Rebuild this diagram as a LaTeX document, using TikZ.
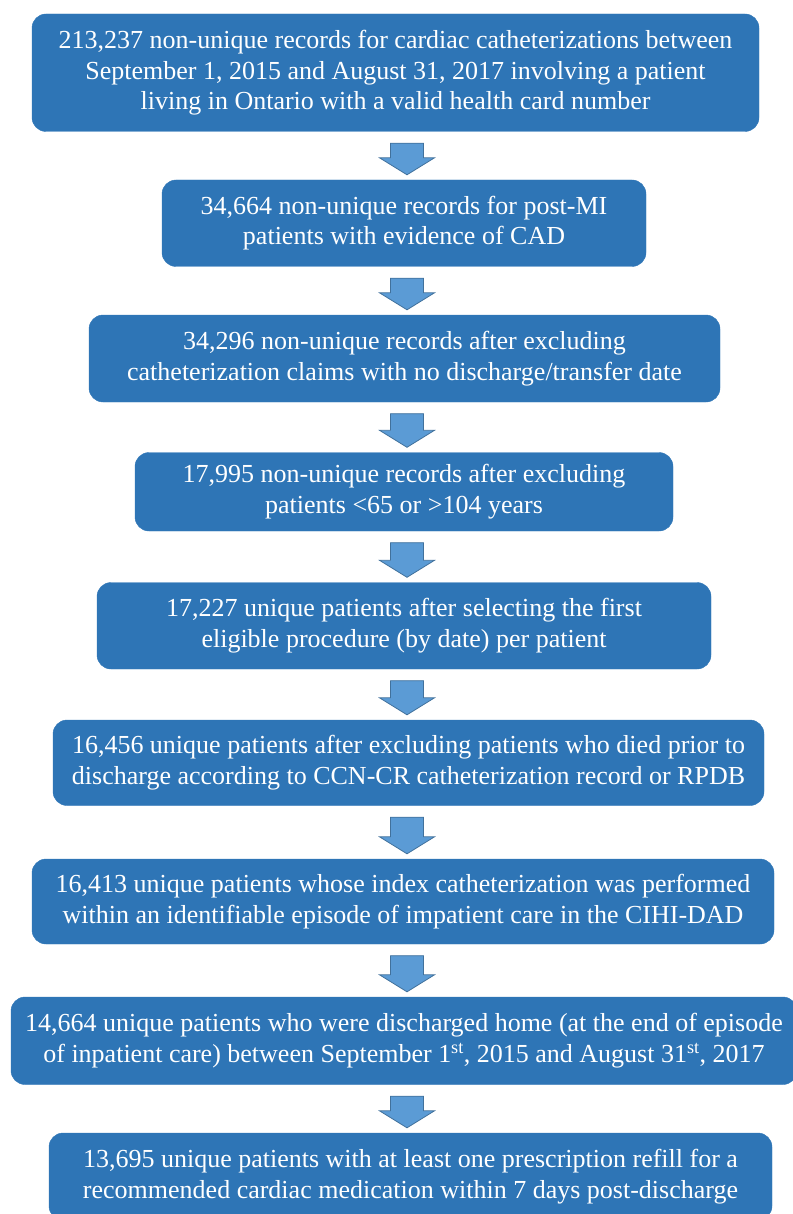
\documentclass[tikz,border=0pt]{standalone}
\usepackage{fontspec}
\setmainfont{Liberation Serif}
\usepackage{tikz}
\usetikzlibrary{
  calc,
  positioning
}
\definecolor{boxfill}{HTML}{2E75B6}
\definecolor{arrowfill}{HTML}{5B9BD5}
\definecolor{arrowline}{HTML}{41719C}

\begin{document}
\begin{tikzpicture}[x=1pt,y=-1pt,
  every text node part/.style={align=center},
  box/.style={rectangle,rounded corners=14pt,draw=boxfill,fill=boxfill,text=white,
    inner sep=0pt,font=\fontsize{26}{30.5}\selectfont},
  blockarrow/.style={draw=arrowline,fill=arrowfill,line width=0.8pt,
    to path={let \p1=(\tikztostart),\p2=(\tikztotarget) in
      (\x1-16.5pt,\y1) -- (\x1+16.5pt,\y1) -- (\x1+16.5pt,\y2+17pt) -- (\x1+27.5pt,\y2+17pt)
      -- (\x1,\y2) -- (\x1-27.5pt,\y2+17pt) -- (\x1-16.5pt,\y2+17pt) -- cycle}}]
  \useasboundingbox (0,0) rectangle (792,1214);
  \coordinate (col) at (407,0);

  \node[box,minimum width=727,minimum height=117.5] (1) at (395.5,72.75)
    {213,237 non-unique records for cardiac catheterizations between\\
     September 1, 2015 and August 31, 2017 involving a patient\\
     living in Ontario with a valid health card number};
  \node[box,minimum width=484,minimum height=86.5] (2) at (404,223.25)
    {34,664 non-unique records for post-MI\\ patients with evidence of CAD};
  \node[box,minimum width=631,minimum height=87] (3) at (404.5,358.5)
    {34,296 non-unique records after excluding\\
     catheterization claims with no discharge/transfer date};
  \node[box,minimum width=538,minimum height=78.5] (4) at (404,491.75)
    {17,995 non-unique records after excluding\\ patients <65 or >104 years};
  \node[box,minimum width=614,minimum height=86.5] (5) at (404,625.75)
    {17,227 unique patients after selecting the first\\
     eligible procedure (by date) per patient};
  \node[box,minimum width=711,minimum height=85.5] (6) at (408.5,762.75)
    {16,456 unique patients after excluding patients who died prior to\\
     discharge according to CCN-CR catheterization record or RPDB};
  \node[box,minimum width=742,minimum height=85] (7) at (403,901.5)
    {16,413 unique patients whose index catheterization was performed\\
     within an identifiable episode of impatient care in the CIHI-DAD};
  \node[box,minimum width=786,minimum height=87.5] (8) at (404,1040.75)
    {14,664 unique patients who were discharged home (at the end of episode\\
     of inpatient care) between September 1\textsuperscript{st}, 2015 and August 31\textsuperscript{st}, 2017};
  \node[box,minimum width=723,minimum height=87] (9) at (410.5,1176.5)
    {13,695 unique patients with at least one prescription refill for a\\
     recommended cardiac medication within 7 days post-discharge};

  \draw[blockarrow] ([yshift=-11.5pt]1.south -| col) to ([yshift=5pt]2.north -| col);
  \draw[blockarrow] ([yshift=-11.5pt]2.south -| col) to ([yshift=5pt]3.north -| col);
  \draw[blockarrow] ([yshift=-11.5pt]3.south -| col) to ([yshift=5pt]4.north -| col);
  \draw[blockarrow] ([yshift=-11.5pt]4.south -| col) to ([yshift=5pt]5.north -| col);
  \draw[blockarrow] ([yshift=-11.5pt]5.south -| col) to ([yshift=5pt]6.north -| col);
  \draw[blockarrow] ([yshift=-11.5pt]6.south -| col) to ([yshift=5pt]7.north -| col);
  \draw[blockarrow] ([yshift=-11.5pt]7.south -| col) to ([yshift=5pt]8.north -| col);
  \draw[blockarrow] ([yshift=-11.5pt]8.south -| col) to ([yshift=5pt]9.north -| col);
\end{tikzpicture}
\end{document}
